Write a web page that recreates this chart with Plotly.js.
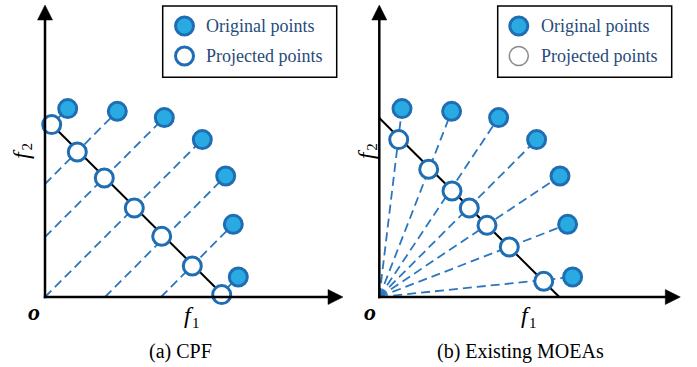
<!DOCTYPE html>
<html>
<head>
<meta charset="utf-8">
<script src="https://cdn.plot.ly/plotly-3.0.1.min.js"></script>
<style>html,body{margin:0;padding:0;background:#fff;}#chart{width:697px;height:367px;}</style>
</head>
<body>
<div id="chart"></div>
<script>
// ---- data (units: objective space, origin at 0) ----
const originalF1 = [22.7, 72.3, 119.3, 157.3, 180.7, 188.3, 193.3];
const originalF2 = [188.4, 185.7, 179.4, 157.4, 121.0, 72.7, 20.0];

// (a) CPF: projection along the (1,1) direction onto the front
const cpfProjF1 = [6.7, 32.3, 59.3, 89.3, 116.7, 147.3, 176.7];
const cpfProjF2 = [172.4, 145.0, 119.0, 89.0, 60.7, 31.0, 2.4];
const cpfLineStartF1 = [0, 0, 0, 0, 60, 116, 173];
const cpfLineStartF2 = [166, 113, 60, 0, 0, 0, 0];

// (b) Existing MOEAs: projection along rays from the origin
const moeaProjF1 = [19.4, 49.4, 72.7, 90.0, 107.7, 130.0, 164.4];
const moeaProjF2 = [157.4, 127.7, 106.0, 89.0, 71.7, 50.0, 15.7];
const rayStartF1 = [0, 0, 0, 0, 0, 0, 0];
const rayStartF2 = [0, 0, 0, 0, 0, 0, 0];

// the linear front f1 + f2 = const
const frontF1 = [0, 180];
const frontF2 = [179, 0];

// axis extents (arrow tips)
const axisTipA = [298, 292];
const axisTipB = [301, 292];

const legendLabels = ['Original points', 'Projected points'];
const panelCaptions = ['(a) CPF', '(b) Existing MOEAs'];
const axisSymbol = 'f';
const axisIndex = ['1', '2'];
const originLabel = 'o';

// ---- styles ----
const FONT = 'Liberation Serif';
const fillBlue = '#2aaae2';
const edgeBlue = '#1f6db2';
const dashBlue = '#2b76bf';
const legendText = '#274b7a';

function segs(x0, y0, x1, y1) {
  const xs = [], ys = [];
  for (let i = 0; i < x0.length; i++) { xs.push(x0[i], x1[i], null); ys.push(y0[i], y1[i], null); }
  return {xs, ys};
}

function panelTraces(xa, ya, lineStartF1, lineStartF2, projF1, projF2) {
  const d = segs(lineStartF1, lineStartF2, originalF1, originalF2);
  return [
    {x: d.xs, y: d.ys, xaxis: xa, yaxis: ya, mode: 'lines', type: 'scatter',
     line: {color: dashBlue, width: 1.8, dash: '9px,5px'}, showlegend: false, hoverinfo: 'skip'},
    {x: frontF1, y: frontF2, xaxis: xa, yaxis: ya, mode: 'lines', type: 'scatter',
     line: {color: '#000', width: 2}, showlegend: false, hoverinfo: 'skip'},
    {x: projF1, y: projF2, xaxis: xa, yaxis: ya, mode: 'markers', type: 'scatter',
     marker: {size: 18, color: '#fff', line: {color: edgeBlue, width: 3}}, showlegend: false},
    {x: originalF1, y: originalF2, xaxis: xa, yaxis: ya, mode: 'markers', type: 'scatter',
     marker: {size: 18, color: fillBlue, line: {color: edgeBlue, width: 3}}, showlegend: false}
  ];
}

// legend swatches (drawn in each panel's coordinates)
const legX = 139.5, legY = [271, 241];
function legendSwatch(xa, ya, projStyle) {
  return [
    {x: [legX], y: [legY[0]], xaxis: xa, yaxis: ya, mode: 'markers', type: 'scatter',
     marker: {size: 18, color: fillBlue, line: {color: edgeBlue, width: 3}}, showlegend: false, hoverinfo: 'skip'},
    {x: [legX], y: [legY[1]], xaxis: xa, yaxis: ya, mode: 'markers', type: 'scatter',
     marker: projStyle, showlegend: false, hoverinfo: 'skip'}
  ];
}

const data = [].concat(
  panelTraces('x', 'y', cpfLineStartF1, cpfLineStartF2, cpfProjF1, cpfProjF2),
  panelTraces('x2', 'y2', rayStartF1, rayStartF2, moeaProjF1, moeaProjF2),
  legendSwatch('x', 'y', {size: 18, color: '#fff', line: {color: edgeBlue, width: 3}}),
  legendSwatch('x2', 'y2', {size: 19, color: '#fff', line: {color: '#8a8a8a', width: 1.5}})
);

function txt(xr, yr, pos, text, size, opts) {
  opts = opts || {};
  return {x: pos[0], y: pos[1], xref: xr, yref: yr, text: text, showarrow: false,
    xanchor: opts.xanchor || 'center', yanchor: 'middle', textangle: opts.angle || 0,
    font: {family: FONT, size: size, color: opts.color || '#000',
           style: opts.style || 'normal', weight: opts.weight || 'normal'}};
}

function labels(xr, yr, P, capText, legTextX) {
  return [
    txt(xr, yr, P.o, originLabel, 24, {style: 'italic', weight: 'bold'}),
    txt(xr, yr, P.f1, axisSymbol, 24, {style: 'italic'}),
    txt(xr, yr, P.s1, axisIndex[0], 15),
    txt(xr, yr, P.f2, axisSymbol, 24, {style: 'italic', angle: -90}),
    txt(xr, yr, P.s2, axisIndex[1], 15, {angle: -90}),
    txt(xr, yr, P.cap, capText, 20),
    txt(xr, yr, [legTextX, legY[0]], legendLabels[0], 18, {color: legendText, xanchor: 'left'}),
    txt(xr, yr, [legTextX, legY[1]], legendLabels[1], 18, {color: legendText, xanchor: 'left'})
  ];
}

const posA = {o: [-11.5, -15], f1: [143.5, -18], s1: [150.5, -25.5], f2: [-24, 143], s2: [-18.5, 150], cap: [135, -54.5]};
const posB = {o: [-9.5, -14.5], f1: [146.5, -18], s1: [153.5, -25.5], f2: [-13, 143], s2: [-7.5, 150], cap: [141, -54.5]};

const annotations = [].concat(
  labels('x', 'y', posA, panelCaptions[0], 159),
  labels('x2', 'y2', posB, panelCaptions[1], 160)
);

// axis lines with filled triangular heads
const HEAD = 15, HALF = 7.5;
function axisShapes(xr, yr, tip) {
  const ln = {color: '#000', width: 2.5};
  const hx = tip[0], hy = tip[1];
  return [
    {type: 'line', xref: xr, yref: yr, x0: -1.2, y0: 0, x1: hx - HEAD + 1, y1: 0, line: ln},
    {type: 'line', xref: xr, yref: yr, x0: 0, y0: -1.2, x1: 0, y1: hy - HEAD + 1, line: ln},
    {type: 'path', xref: xr, yref: yr, fillcolor: '#000', line: {color: '#000', width: 0.5},
     path: 'M' + (hx - HEAD) + ',' + (-HALF) + ' L' + hx + ',0 L' + (hx - HEAD) + ',' + HALF + ' Z'},
    {type: 'path', xref: xr, yref: yr, fillcolor: '#000', line: {color: '#000', width: 0.5},
     path: 'M' + (-HALF) + ',' + (hy - HEAD) + ' L0,' + hy + ' L' + HALF + ',' + (hy - HEAD) + ' Z'}
  ];
}

const boxLine = {color: '#000', width: 1.5};
const shapes = [
  {type: 'rect', xref: 'x', yref: 'y', x0: 117.7, x1: 291.7, y0: 219.7, y1: 291, line: boxLine, fillcolor: 'rgba(0,0,0,0)', layer: 'below'},
  {type: 'rect', xref: 'x2', yref: 'y2', x0: 118.4, x1: 292.4, y0: 219.7, y1: 291, line: boxLine, fillcolor: 'rgba(0,0,0,0)', layer: 'below'}
].concat(axisShapes('x', 'y', axisTipA), axisShapes('x2', 'y2', axisTipB));

const hidden = {visible: false, fixedrange: true, showgrid: false, zeroline: false};
const layout = {
  width: 697, height: 367,
  margin: {l: 0, r: 0, t: 0, b: 0},
  paper_bgcolor: '#fff', plot_bgcolor: '#fff',
  showlegend: false,
  font: {family: FONT, size: 18},
  xaxis: Object.assign({}, hidden, {domain: [0, 0.5], range: [-45, 303.5]}),
  yaxis: Object.assign({}, hidden, {domain: [0, 1], range: [-70, 297]}),
  xaxis2: Object.assign({}, hidden, {domain: [0.5, 1], range: [-30.8, 317.7]}),
  yaxis2: Object.assign({}, hidden, {domain: [0, 1], range: [-70, 297], anchor: 'x2'}),
  annotations: annotations,
  shapes: shapes
};

Plotly.newPlot('chart', data, layout, {staticPlot: true, displayModeBar: false});
</script>
</body>
</html>
